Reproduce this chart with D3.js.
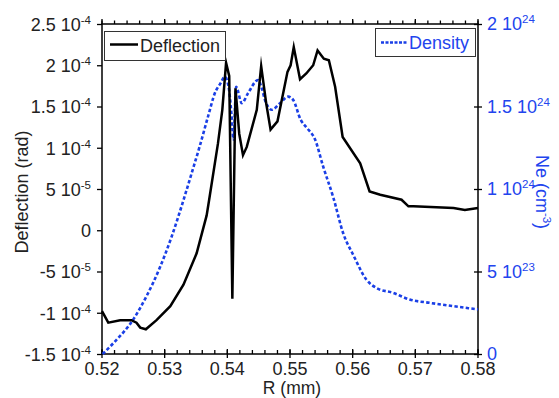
<!DOCTYPE html>
<html>
<head>
<meta charset="utf-8">
<script src="https://cdn.jsdelivr.net/npm/d3@7"></script>
<style>
  html, body { margin: 0; padding: 0; background: #fff; }
  svg { display: block; font-family: "Liberation Sans", Arial, sans-serif; }
</style>
</head>
<body>
<svg id="chart" width="559" height="398"></svg>
<script>
// Radius (mm) and deflection angle (units of 1e-4 rad)
const deflR = [0.5200,0.5210,0.5229,0.5247,0.5255,0.5261,0.5270,0.5287,0.5309,0.5330,0.5351,0.5367,0.5371,
  0.5385,0.5392,0.5398,0.5403,0.5408,0.5413,0.5419,0.5425,0.5431,0.5447,0.5454,0.5462,0.5469,0.5480,
  0.5496,0.5501,0.5506,0.5516,0.5526,0.5537,0.5544,0.5554,0.5562,0.5572,0.5584,0.5612,0.5627,0.5644,
  0.5678,0.5689,0.5697,0.5761,0.5779,0.5800];
const deflection = [-0.98,-1.12,-1.09,-1.09,-1.12,-1.18,-1.20,-1.09,-0.92,-0.66,-0.28,0.18,0.37,
  1.05,1.46,2.03,1.87,-0.83,1.72,1.17,0.91,1.01,1.46,1.99,1.54,1.22,1.32,
  1.92,2.00,2.22,1.83,1.90,2.00,2.18,2.08,2.06,1.74,1.13,0.81,0.47,0.43,
  0.37,0.29,0.29,0.27,0.245,0.27];

// Radius (mm) and electron density (units of 1e24 cm^-3)
const densR = [0.5201,0.5218,0.5250,0.5271,0.5293,0.5311,0.5329,0.5343,0.5356,0.5370,0.5380,0.5389,0.5396,
  0.5402,0.5406,0.5410,0.5414,0.5423,0.5433,0.5449,0.5455,0.5460,0.5471,0.5484,0.5497,0.5505,0.5517,
  0.5527,0.5540,0.5553,0.5569,0.5585,0.5601,0.5622,0.5638,0.5665,0.5691,0.5723,0.5761,0.5800];
const density = [0.00,0.065,0.21,0.35,0.53,0.71,0.92,1.095,1.26,1.45,1.58,1.64,1.68,
  1.62,1.48,1.30,1.62,1.52,1.58,1.66,1.61,1.54,1.48,1.52,1.56,1.54,1.42,
  1.37,1.30,1.135,0.95,0.73,0.60,0.45,0.40,0.37,0.33,0.31,0.29,0.27];

// Axis ticks: position, and label as [mantissa, exponent]
const xTicks = [0.52,0.53,0.54,0.55,0.56,0.57,0.58];
const xTickLabels = ["0.52","0.53","0.54","0.55","0.56","0.57","0.58"];
const leftTicks = [-1.5,-1,-0.5,0,0.5,1,1.5,2,2.5];
const leftTickLabels = [["-1.5","-4"],["-1","-4"],["-5","-5"],["0",null],["5","-5"],["1","-4"],["1.5","-4"],["2","-4"],["2.5","-4"]];
const rightTicks = [0,0.5,1,1.5,2];
const rightTickLabels = [["0",null],["5","23"],["1","24"],["1.5","24"],["2","24"]];

const blue = "#1a3fe6";
const textBlue = "#2244ee";
const ink = "#222";

const svg = d3.select("#chart");
const L = 102, R = 478, T = 24, B = 354;

const x = d3.scaleLinear().domain([0.52, 0.58]).range([L, R]);
const yL = d3.scaleLinear().domain([-1.5, 2.5]).range([B, T]);
const yR = d3.scaleLinear().domain([0, 2]).range([B, T]);

const fs = 18;
const supFs = 11.5;

function labelWithExp(sel, pair) {
  sel.text(null);
  sel.append("tspan").text(pair[0] + (pair[1] ? " 10" : ""));
  if (pair[1]) {
    sel.append("tspan").attr("dy", -7).attr("font-size", supFs).text(pair[1]);
  }
}

// Minor ticks on x (every 0.002)
const minor = d3.range(0, 31).map(i => 0.52 + i * 0.002);

// Bottom axis
const gB = svg.append("g");
gB.selectAll("line.mn").data(minor).join("line")
  .attr("x1", d => x(d)).attr("x2", d => x(d))
  .attr("y1", B).attr("y2", B - 4)
  .attr("stroke", "#000").attr("stroke-width", 1.3);
gB.selectAll("line.mj").data(xTicks).join("line")
  .attr("x1", d => x(d)).attr("x2", d => x(d))
  .attr("y1", B + 4).attr("y2", B - 5)
  .attr("stroke", "#000").attr("stroke-width", 1.3);
gB.selectAll("text").data(xTicks).join("text")
  .attr("x", d => x(d)).attr("y", 374.5)
  .attr("text-anchor", "middle").attr("font-size", fs).attr("fill", ink)
  .text((d, i) => xTickLabels[i]);

// Top axis
const gT = svg.append("g");
gT.selectAll("line.mn").data(minor).join("line")
  .attr("x1", d => x(d)).attr("x2", d => x(d))
  .attr("y1", T).attr("y2", T - 3.5)
  .attr("stroke", "#000").attr("stroke-width", 1.3);
gT.selectAll("line.mj").data(xTicks).join("line")
  .attr("x1", d => x(d)).attr("x2", d => x(d))
  .attr("y1", T).attr("y2", T - 5)
  .attr("stroke", "#000").attr("stroke-width", 1.3);

// Left axis
const gL = svg.append("g").attr("transform", `translate(${L},0)`)
  .call(d3.axisLeft(yL).tickValues(leftTicks).tickSize(5).tickPadding(6));
gL.select(".domain").remove();
gL.selectAll("line").attr("stroke", "#000").attr("stroke-width", 1.3);
gL.selectAll("text")
  .attr("font-size", fs).attr("font-family", "Liberation Sans, Arial, sans-serif")
  .attr("fill", ink).attr("dy", "0.36em")
  .each(function(d) { labelWithExp(d3.select(this), leftTickLabels[leftTicks.indexOf(d)]); });

// Right axis
const gR = svg.append("g").attr("transform", `translate(${R},0)`)
  .call(d3.axisRight(yR).tickValues(rightTicks).tickSize(4).tickPadding(5));
gR.select(".domain").remove();
gR.selectAll("line").attr("x1", -4).attr("stroke", "#000").attr("stroke-width", 1.3);
gR.selectAll("text")
  .attr("font-size", fs).attr("font-family", "Liberation Sans, Arial, sans-serif")
  .attr("fill", textBlue).attr("dy", "0.33em")
  .each(function(d) { labelWithExp(d3.select(this), rightTickLabels[rightTicks.indexOf(d)]); });

// Frame
svg.append("rect").attr("x", L).attr("y", T).attr("width", R - L).attr("height", B - T)
  .attr("fill", "none").attr("stroke", "#000").attr("stroke-width", 1.5);

// Data lines
const deflLine = d3.line().x(d => x(d[0])).y(d => yL(d[1]));
const densLine = d3.line().curve(d3.curveMonotoneX).x(d => x(d[0])).y(d => yR(d[1]));

svg.append("path")
  .datum(densR.map((r, i) => [r, density[i]]))
  .attr("d", densLine)
  .attr("fill", "none").attr("stroke", blue).attr("stroke-width", 2.6)
  .attr("stroke-dasharray", "3.4,2.3");

svg.append("path")
  .datum(deflR.map((r, i) => [r, deflection[i]]))
  .attr("d", deflLine)
  .attr("fill", "none").attr("stroke", "#000").attr("stroke-width", 2.5)
  .attr("stroke-linejoin", "miter").attr("stroke-miterlimit", 10);

// Legends
const lg1 = svg.append("g");
lg1.append("rect").attr("x", 104.5).attr("y", 31.5).attr("width", 121).attr("height", 29)
  .attr("fill", "#fff").attr("stroke", "#333").attr("stroke-width", 1);
lg1.append("line").attr("x1", 110).attr("x2", 138).attr("y1", 44.5).attr("y2", 44.5)
  .attr("stroke", "#000").attr("stroke-width", 2.5);
lg1.append("text").attr("x", 140).attr("y", 51.5).attr("font-size", fs).attr("fill", ink).text("Deflection");

const lg2 = svg.append("g");
lg2.append("rect").attr("x", 375.5).attr("y", 28.5).attr("width", 100).attr("height", 28)
  .attr("fill", "#fff").attr("stroke", "#333").attr("stroke-width", 1);
lg2.append("line").attr("x1", 381).attr("x2", 408).attr("y1", 42.5).attr("y2", 42.5)
  .attr("stroke", blue).attr("stroke-width", 2.4).attr("stroke-dasharray", "3,1.5");
lg2.append("text").attr("x", 409).attr("y", 49).attr("font-size", fs).attr("fill", textBlue).text("Density");

// Axis titles
svg.append("text").attr("x", 292).attr("y", 394).attr("text-anchor", "middle")
  .attr("font-size", 17.5).attr("fill", ink).text("R (mm)");

svg.append("text").attr("transform", "translate(28,192) rotate(-90)")
  .attr("text-anchor", "middle").attr("font-size", fs).attr("fill", ink)
  .text("Deflection (rad)");

const ne = svg.append("text").attr("transform", "translate(536,192) rotate(90)")
  .attr("text-anchor", "middle").attr("font-size", fs).attr("fill", textBlue);
ne.append("tspan").text("Ne (cm");
ne.append("tspan").attr("dy", -7).attr("font-size", supFs).text("-3");
ne.append("tspan").attr("dy", 7).text(")");
</script>
</body>
</html>
